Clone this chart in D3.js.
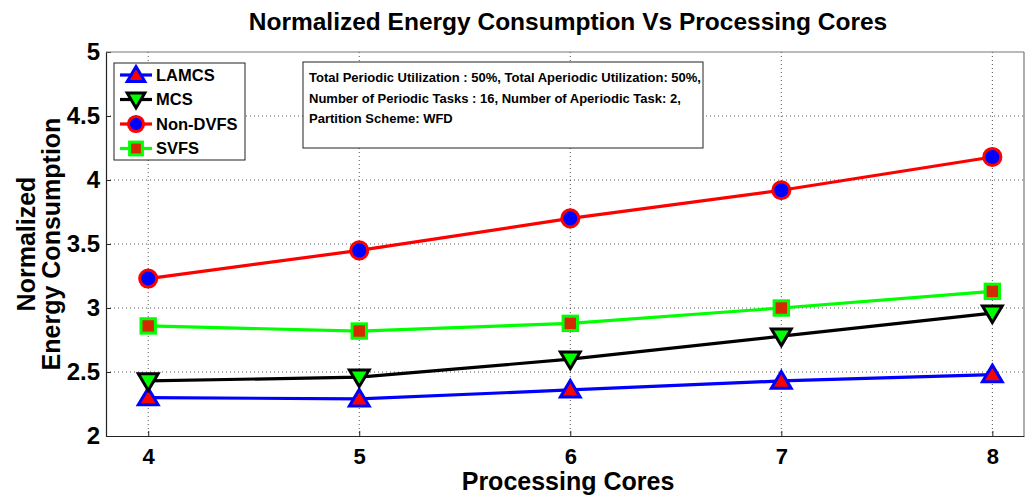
<!DOCTYPE html>
<html lang="en">
<head>
<meta charset="UTF-8">
<title>Normalized Energy Consumption Vs Processing Cores</title>
<style>
    body, html { margin: 0; padding: 0; background: #fff; }
    svg { display: block; font-family: "Liberation Sans", Arial, Helvetica, sans-serif; }
</style>
</head>
<body>
<svg id="svg" width="1026" height="496"></svg>
<script src="https://d3js.org/d3.v7.min.js"></script>
<script>
    // data
    const cores = [4, 5, 6, 7, 8]
    const lamcs = [2.30, 2.29, 2.36, 2.43, 2.48]
    const mcs = [2.43, 2.46, 2.60, 2.78, 2.96]
    const nonDvfs = [3.23, 3.45, 3.70, 3.92, 4.18]
    const svfs = [2.86, 2.82, 2.88, 3.00, 3.13]
    const yTicks = [2, 2.5, 3, 3.5, 4, 4.5, 5]
    const infoLines = [
        'Total Periodic Utilization : 50%, Total Aperiodic Utilization: 50%,',
        'Number of Periodic Tasks : 16, Number of Aperiodic Task: 2,',
        'Partition Scheme: WFD'
    ]

    const series = [
        { name: 'LAMCS', values: lamcs, line: '#0000ff', fill: '#ff0000', stroke: '#0000ff', shape: 'up' },
        { name: 'MCS', values: mcs, line: '#000000', fill: '#00ff00', stroke: '#000000', shape: 'down' },
        { name: 'Non-DVFS', values: nonDvfs, line: '#ff0000', fill: '#0000ff', stroke: '#ff0000', shape: 'circle' },
        { name: 'SVFS', values: svfs, line: '#00ff00', fill: '#d42a00', stroke: '#00ff00', shape: 'square' }
    ]

    const margin = { top: 52, right: 2, bottom: 60, left: 106 }
    const W = 1026, H = 496
    const svg = d3.select('#svg')

    const x = d3.scaleLinear().domain([3.8, 8.15]).range([margin.left, W - margin.right])
    const y = d3.scaleLinear().domain([2, 5]).range([H - margin.bottom, margin.top])

    // grid (dotted)
    const grid = svg.append('g')
    grid.selectAll('line.gy').data(yTicks.slice(1, -1)).enter().append('line')
        .attr('x1', margin.left).attr('x2', W - margin.right)
        .attr('y1', d => y(d)).attr('y2', d => y(d))
        .attr('stroke', '#555').attr('stroke-width', 1).attr('stroke-dasharray', '1,3')
    grid.selectAll('line.gx').data(cores).enter().append('line')
        .attr('y1', margin.top).attr('y2', H - margin.bottom)
        .attr('x1', d => x(d)).attr('x2', d => x(d))
        .attr('stroke', '#555').attr('stroke-width', 1).attr('stroke-dasharray', '1,3')

    // axes
    const bottomAxis = d3.axisBottom(x).tickValues(cores).tickFormat(d3.format('d'))
        .tickSizeInner(-5).tickSizeOuter(0).tickPadding(12)
    const gx = svg.append('g').attr('transform', `translate(0, ${H - margin.bottom})`).call(bottomAxis)
    const leftAxis = d3.axisLeft(y).tickValues(yTicks).tickFormat(d3.format(''))
        .tickSizeInner(-5).tickSizeOuter(0).tickPadding(6)
    const gy = svg.append('g').attr('transform', `translate(${margin.left}, 0)`).call(leftAxis)
    for (const g of [gx, gy]) {
        g.select('.domain').attr('stroke', '#222').attr('stroke-width', 1.2)
        g.selectAll('.tick line').attr('stroke', '#222')
        g.selectAll('text').attr('font-size', '24px').attr('font-weight', 'bold').attr('fill', '#000')
            .attr('font-family', '"Liberation Sans", Arial, sans-serif')
    }
    gx.selectAll('text').attr('font-size', '22px')

    // top & right frame
    svg.append('line').attr('x1', margin.left).attr('x2', W - margin.right)
        .attr('y1', margin.top).attr('y2', margin.top).attr('stroke', '#777').attr('stroke-width', 1.2)
    svg.append('line').attr('x1', W - margin.right).attr('x2', W - margin.right)
        .attr('y1', margin.top).attr('y2', H - margin.bottom).attr('stroke', '#777').attr('stroke-width', 1.2)

    // marker drawing
    function marker(sel, s, size) {
        const r = size / 2
        if (s.shape === 'circle') {
            sel.append('circle').attr('r', r * 0.95)
        } else if (s.shape === 'square') {
            sel.append('rect').attr('x', -r * 0.8).attr('y', -r * 0.8).attr('width', r * 1.6).attr('height', r * 1.6)
        } else if (s.shape === 'up') {
            sel.append('path').attr('d', `M0,${-r * 1.05} L${r * 1.1},${r * 0.8} L${-r * 1.1},${r * 0.8} Z`)
        } else {
            sel.append('path').attr('d', `M0,${r * 1.05} L${r * 1.1},${-r * 0.8} L${-r * 1.1},${-r * 0.8} Z`)
        }
        sel.selectAll('*').attr('fill', s.fill).attr('stroke', s.stroke).attr('stroke-width', 3).attr('stroke-linejoin', 'miter')
    }

    const line = d3.line().x(d => x(d[0])).y(d => y(d[1]))
    series.forEach(s => {
        const pts = cores.map((c, i) => [c, s.values[i]])
        svg.append('path').datum(pts).attr('d', line)
            .attr('fill', 'none').attr('stroke', s.line).attr('stroke-width', 3.2)
        svg.append('g').selectAll('g').data(pts).enter().append('g')
            .attr('transform', d => `translate(${x(d[0])}, ${y(d[1])})`)
            .each(function () { marker(d3.select(this), s, 18) })
    })

    // legend
    const lg = svg.append('g').attr('transform', 'translate(114, 63)')
    lg.append('rect').attr('width', 131).attr('height', 97).attr('fill', '#fff').attr('stroke', '#222').attr('stroke-width', 1)
    series.forEach((s, i) => {
        const row = lg.append('g').attr('transform', `translate(0, ${12 + i * 24.5})`)
        row.append('line').attr('x1', 6).attr('x2', 38).attr('stroke', s.line).attr('stroke-width', 3.2)
        const m = row.append('g').attr('transform', 'translate(22, 0)')
        marker(m, s, 16)
        row.append('text').attr('x', 42).attr('y', 0).attr('dy', '0.35em')
            .attr('font-size', '16.5px').attr('font-weight', 'bold').text(s.name)
    })

    // info box
    const ib = svg.append('g').attr('transform', 'translate(303, 62)')
    ib.append('rect').attr('width', 400).attr('height', 86).attr('fill', '#fff').attr('stroke', '#222').attr('stroke-width', 1)
    ib.selectAll('text').data(infoLines).enter().append('text')
        .attr('x', 6).attr('y', (d, i) => 20 + i * 20.5)
        .attr('font-size', '13px').attr('font-weight', 'bold').text(d => d)

    // title and axis labels
    svg.append('text').attr('x', 568).attr('y', 30).attr('text-anchor', 'middle')
        .attr('font-size', '24.5px').attr('font-weight', 'bold')
        .text('Normalized Energy Consumption Vs Processing Cores')
    svg.append('text').attr('x', 568).attr('y', 490).attr('text-anchor', 'middle')
        .attr('font-size', '25px').attr('font-weight', 'bold').text('Processing Cores')
    const yl = svg.append('text').attr('transform', 'translate(0, 244) rotate(-90)')
        .attr('text-anchor', 'middle').attr('font-size', '25px').attr('font-weight', 'bold')
    yl.append('tspan').attr('x', 0).attr('y', 35).text('Normalized')
    yl.append('tspan').attr('x', 0).attr('y', 60).text('Energy Consumption')
</script>
</body>
</html>
